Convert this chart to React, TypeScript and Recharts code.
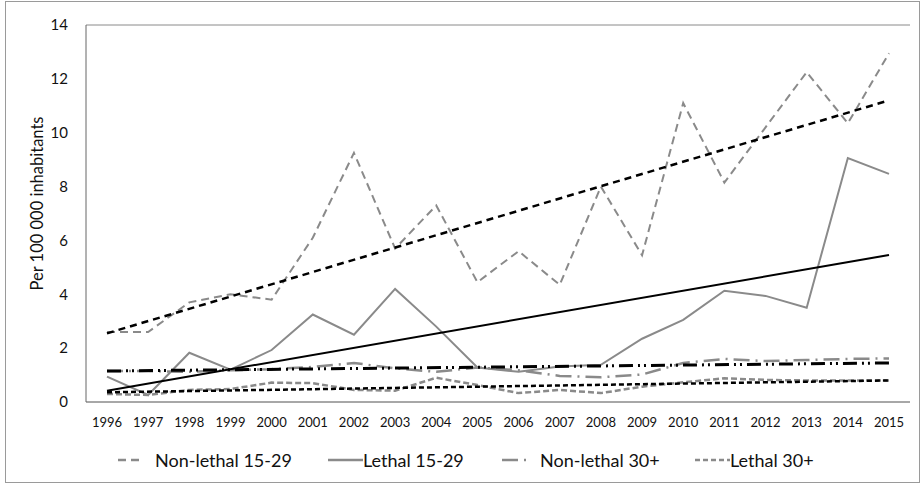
import React from "react";
import { LineChart, Line, XAxis, YAxis, CartesianGrid } from "recharts";

const years = [
  "1996", "1997", "1998", "1999", "2000", "2001", "2002", "2003", "2004", "2005",
  "2006", "2007", "2008", "2009", "2010", "2011", "2012", "2013", "2014", "2015",
];

const nonLethal1529 = [2.6, 2.6, 3.7, 4.0, 3.8, 6.1, 9.25, 5.7, 7.3, 4.45, 5.6, 4.35, 8.0, 5.45, 11.1, 8.15, 10.2, 12.25, 10.35, 12.95];
const lethal1529 = [0.94, 0.26, 1.83, 1.2, 1.93, 3.25, 2.5, 4.2, 2.8, 1.28, 1.12, 1.32, 1.38, 2.35, 3.05, 4.13, 3.94, 3.5, 9.06, 8.47];
const nonLethal30 = [1.15, 1.15, 1.12, 1.18, 1.22, 1.3, 1.45, 1.25, 1.12, 1.28, 1.18, 0.97, 0.92, 1.02, 1.45, 1.6, 1.52, 1.56, 1.6, 1.62];
const lethal30 = [0.3, 0.26, 0.45, 0.48, 0.72, 0.7, 0.45, 0.42, 0.9, 0.63, 0.33, 0.45, 0.33, 0.57, 0.73, 0.88, 0.82, 0.8, 0.8, 0.8];

// trend lines: only the read-off end points, joined straight by connectNulls
const trendNonLethal1529 = [2.55, 11.2];
const trendLethal1529 = [0.42, 5.46];
const trendNonLethal30 = [1.15, 1.45];
const trendLethal30 = [0.36, 0.8];

const yTicks = [0, 2, 4, 6, 8, 10, 12, 14];

const ends = (pair: number[], i: number) =>
  i === 0 ? pair[0] : i === years.length - 1 ? pair[1] : null;

const data = years.map((year, i) => ({
  year,
  nl1529: nonLethal1529[i],
  l1529: lethal1529[i],
  nl30: nonLethal30[i],
  l30: lethal30[i],
  tnl1529: ends(trendNonLethal1529, i),
  tl1529: ends(trendLethal1529, i),
  tnl30: ends(trendNonLethal30, i),
  tl30: ends(trendLethal30, i),
}));

const font = "Lato, 'Open Sans', sans-serif";
const gray = "#8a8a8a";

const legendItems = [
  { label: "Non-lethal 15-29", dash: "8 5", width: 26, gap: 11, left: 118 },
  { label: "Lethal 15-29", dash: undefined, width: 35, gap: 0, left: 328 },
  { label: "Non-lethal 30+", dash: "16 6 2 6", width: 30, gap: 8, left: 502 },
  { label: "Lethal 30+", dash: "5 3", width: 35, gap: 0, left: 695 },
];

const Legend = () => (
  <div style={{ fontFamily: font, fontSize: 18, color: "#111" }}>
    {legendItems.map((it) => (
      <div
        key={it.label}
        style={{ position: "absolute", left: it.left, top: 449, display: "flex", alignItems: "center" }}
      >
        <svg width={it.width} height={10} style={{ marginRight: it.gap }}>
          <line x1={0} y1={5} x2={it.width} y2={5} stroke={gray} strokeWidth={2.5} strokeDasharray={it.dash} />
        </svg>
        <span>{it.label}</span>
      </div>
    ))}
  </div>
);

export default function App() {
  return (
    <div style={{ position: "absolute", left: 0, top: 0, width: 924, height: 485, background: "#fff" }}>
      <div
        style={{
          position: "absolute",
          left: 5,
          top: 1,
          width: 913,
          height: 480,
          border: "1px solid #9a9a9a",
        }}
      />
      <LineChart
        width={924}
        height={485}
        data={data}
        margin={{ top: 25, right: 14, left: 0, bottom: 0 }}
        style={{ position: "absolute", left: 0, top: 0 }}
      >
        <CartesianGrid vertical={false} stroke={gray} strokeWidth={1} />
        <XAxis
          dataKey="year"
          height={83}
          padding={{ left: 21, right: 21 }}
          tickLine={false}
          axisLine={{ stroke: gray }}
          tick={{ fontSize: 13, fill: "#111", fontFamily: font }}
          tickMargin={10}
          interval={0}
        />
        <YAxis
          yAxisId="left"
          domain={[0, 14]}
          ticks={yTicks}
          width={86}
          tickLine={false}
          tickSize={8}
          tickMargin={10}
          axisLine={{ stroke: "#666" }}
          tick={{ fontSize: 15, fill: "#111", fontFamily: font }}
          label={{
            value: "Per 100 000 inhabitants",
            angle: -90,
            position: "insideLeft",
            offset: 37,
            dy: -10,
            fontSize: 16.5,
            fill: "#111",
            fontFamily: font,
            style: { textAnchor: "middle", fontSize: 16.5, fill: "#111", fontFamily: font },
          }}
        />
        <YAxis
          yAxisId="right"
          orientation="right"
          width={0}
          domain={[0, 14]}
          tick={false}
          tickLine={false}
          axisLine={{ stroke: gray }}
        />
        <Line yAxisId="left" dataKey="l30" stroke={gray} strokeWidth={2.5} strokeDasharray="6 3" dot={false} isAnimationActive={false} />
        <Line yAxisId="left" dataKey="nl30" stroke={gray} strokeWidth={2.5} strokeDasharray="16 6 2 6" dot={false} isAnimationActive={false} />
        <Line yAxisId="left" dataKey="l1529" stroke={gray} strokeWidth={2} dot={false} isAnimationActive={false} />
        <Line yAxisId="left" dataKey="nl1529" stroke={gray} strokeWidth={2} strokeDasharray="8 5" dot={false} isAnimationActive={false} />
        <Line yAxisId="left" dataKey="tl30" stroke="#000" strokeWidth={2.5} strokeDasharray="5 3" connectNulls dot={false} isAnimationActive={false} />
        <Line yAxisId="left" dataKey="tnl30" stroke="#000" strokeWidth={3} strokeDasharray="14 5 2 4 2 5" connectNulls dot={false} isAnimationActive={false} />
        <Line yAxisId="left" dataKey="tl1529" stroke="#000" strokeWidth={2} connectNulls dot={false} isAnimationActive={false} />
        <Line yAxisId="left" dataKey="tnl1529" stroke="#000" strokeWidth={2.5} strokeDasharray="7 5" connectNulls dot={false} isAnimationActive={false} />
      </LineChart>
      <Legend />
    </div>
  );
}
